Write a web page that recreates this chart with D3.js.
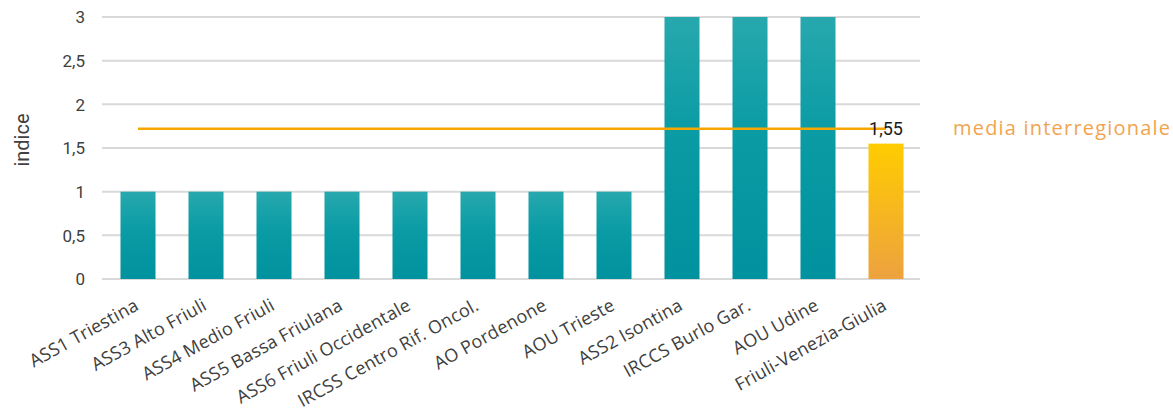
<!DOCTYPE html>
<html><head><meta charset="utf-8">
<script src="https://cdn.jsdelivr.net/npm/d3@7"></script>
<style>body{margin:0;background:#fff;}</style>
</head><body>
<svg id="c" width="1173" height="418"></svg>
<script>
const categories = ["ASS1 Triestina","ASS3 Alto Friuli","ASS4 Medio Friuli","ASS5 Bassa Friulana","ASS6 Friuli Occidentale","IRCSS Centro Rif. Oncol.","AO Pordenone","AOU Trieste","ASS2 Isontina","IRCCS Burlo Gar.","AOU Udine","Friuli-Venezia-Giulia"];
const values = [1,1,1,1,1,1,1,1,3,3,3,1.55];
const highlight = ["Friuli-Venezia-Giulia"];
const meanValue = 1.72;
const yTicks = [0,0.5,1,1.5,2,2.5,3];
const meanLabel = "media interregionale";
const yTitle = "indice";

(function(){
const svg = d3.select("#c");
const pL = 104, pR = 920, pT = 17, pB = 279;
const x = d3.scaleBand().domain(categories).range([pL,pR]).paddingInner(0.485).paddingOuter(0.2425);
const y = d3.scaleLinear().domain([0,3]).range([pB,pT]);
const fmt = v => String(v).replace(".", ",");

const defs = svg.append("defs");
const g1 = defs.append("linearGradient").attr("id","gTeal").attr("x1",0).attr("y1",0).attr("x2",0).attr("y2",1);
g1.append("stop").attr("offset","0%").attr("stop-color","#27a8ae");
g1.append("stop").attr("offset","45%").attr("stop-color","#0a9ba4");
g1.append("stop").attr("offset","100%").attr("stop-color","#00929e");
const g2 = defs.append("linearGradient").attr("id","gOr").attr("x1",0).attr("y1",0).attr("x2",0).attr("y2",1);
g2.append("stop").attr("offset","0%").attr("stop-color","#ffcc00");
g2.append("stop").attr("offset","100%").attr("stop-color","#eda23f");

svg.append("g").selectAll("line").data(yTicks).join("line")
  .attr("x1",pL-2).attr("x2",pR).attr("y1",d=>y(d)).attr("y2",d=>y(d))
  .attr("stroke","#d9d9d9").attr("stroke-width",2);

const ya = svg.append("g").attr("transform",`translate(${pL-16},0)`)
  .call(d3.axisLeft(y).tickValues(yTicks).tickSize(0).tickFormat(fmt));
ya.select(".domain").remove();
ya.selectAll("text").attr("font-family","Roboto, sans-serif").attr("font-size",17).attr("fill","#404040").attr("dy","0.35em");

svg.append("g").selectAll("rect").data(categories).join("rect")
  .attr("x",d=>x(d)).attr("width",x.bandwidth())
  .attr("y",(d,i)=>y(values[i])).attr("height",(d,i)=>y(0)-y(values[i]))
  .attr("fill",d=>highlight.includes(d)?"url(#gOr)":"url(#gTeal)");

const c0 = x(categories[0])+x.bandwidth()/2, c1 = x(categories[categories.length-1])+x.bandwidth()/2;
svg.append("line").attr("x1",c0).attr("x2",c1).attr("y1",y(meanValue)).attr("y2",y(meanValue))
  .attr("stroke","#f7a600").attr("stroke-width",2.5);

const hi = categories.indexOf(highlight[0]);
svg.append("text").attr("x",x(categories[hi])+x.bandwidth()/2).attr("y",y(values[hi])-9)
  .attr("text-anchor","middle").attr("font-family","Roboto, sans-serif").attr("font-size",18).attr("fill","#1a1a1a")
  .text(fmt(values[hi]));

svg.append("text").attr("x",953).attr("y",y(meanValue)+6).attr("font-family","'Open Sans', sans-serif").attr("font-size",20)
  .attr("letter-spacing",1.2).attr("fill","#f2a44f").text(meanLabel);

svg.append("text").attr("transform",`translate(29,140) rotate(-90)`).attr("text-anchor","middle")
  .attr("font-family","Roboto, sans-serif").attr("font-size",20).attr("fill","#404040").text(yTitle);

svg.append("g").selectAll("text").data(categories).join("text")
  .attr("transform",d=>`translate(${x(d)+x.bandwidth()/2+2},${pB+30}) rotate(-29)`)
  .attr("text-anchor","end")
  .attr("font-family","'Open Sans', sans-serif").attr("font-size",18).attr("letter-spacing",0.2).attr("fill","#404040").text(d=>d);
})();
</script>
</body></html>
